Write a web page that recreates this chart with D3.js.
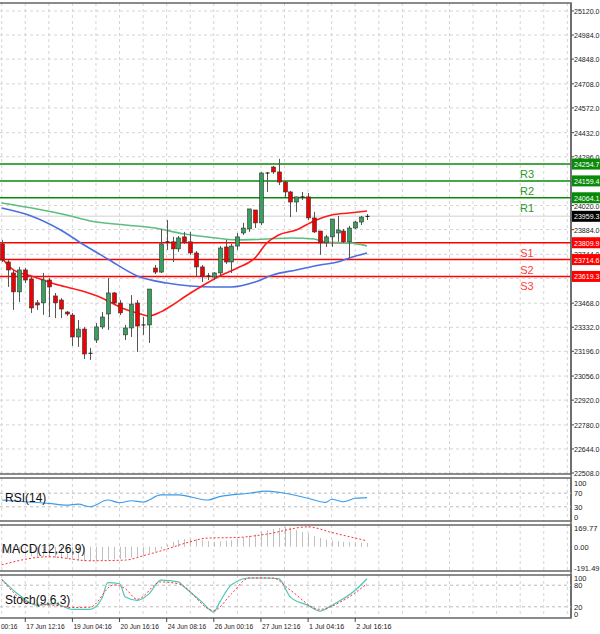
<!DOCTYPE html>
<html>
<head>
<meta charset="utf-8">
<script src="https://cdn.jsdelivr.net/npm/d3@7"></script>
<style>
  body { margin: 0; background: #fff; }
  svg { display: block; font-family: "Liberation Sans", Arial, sans-serif; }
</style>
</head>
<body>
<div id="container"></div>
<script>
// candles: [open, high, low, close]
const candles = [
  [23803, 23826, 23701, 23712], [23701, 23712, 23560, 23656], [23639, 23656, 23430, 23532],
  [23532, 23673, 23475, 23656], [23656, 23667, 23582, 23599], [23605, 23622, 23413, 23441],
  [23470, 23486, 23430, 23458], [23470, 23639, 23402, 23599], [23599, 23610, 23390, 23560],
  [23509, 23526, 23384, 23470], [23486, 23497, 23384, 23435], [23418, 23424, 23396, 23407],
  [23401, 23413, 23226, 23277], [23277, 23373, 23221, 23322], [23322, 23333, 23153, 23181],
  [23181, 23215, 23147, 23185], [23260, 23356, 23243, 23334], [23334, 23418, 23322, 23390],
  [23407, 23610, 23317, 23526], [23526, 23531, 23458, 23469], [23469, 23486, 23401, 23413],
  [23289, 23345, 23260, 23328], [23328, 23514, 23277, 23463], [23469, 23486, 23193, 23339],
  [23345, 23390, 23289, 23339], [23345, 23548, 23243, 23548], [23667, 23684, 23633, 23644],
  [23644, 23888, 23639, 23803], [23815, 23938, 23769, 23815], [23815, 23843, 23701, 23775],
  [23775, 23848, 23758, 23837], [23843, 23871, 23803, 23815], [23815, 23871, 23741, 23752],
  [23752, 23763, 23622, 23673], [23673, 23684, 23588, 23622], [23622, 23639, 23599, 23616],
  [23616, 23644, 23599, 23639], [23639, 23791, 23627, 23780], [23786, 23826, 23690, 23701],
  [23701, 23803, 23639, 23791], [23791, 23865, 23769, 23843], [23865, 23922, 23854, 23893],
  [23888, 24001, 23871, 24001], [23995, 23995, 23893, 23922], [23922, 24210, 23910, 24204],
  [24204, 24210, 24097, 24199], [24238, 24244, 24199, 24210], [24210, 24284, 24136, 24153],
  [24153, 24159, 24069, 24097], [24097, 24102, 23955, 24040], [24040, 24069, 23984, 24069],
  [24069, 24097, 24052, 24069], [24069, 24091, 23938, 23950], [23950, 23984, 23865, 23871],
  [23876, 23876, 23741, 23809], [23809, 23854, 23786, 23843], [23843, 23944, 23786, 23944],
  [23865, 23961, 23815, 23882], [23876, 23888, 23809, 23815], [23815, 23905, 23724, 23893],
  [23893, 23933, 23888, 23927], [23927, 23961, 23910, 23955], [23955, 23972, 23938, 23959]
];

// moving averages: [candle index, value]
const maRed = [[0, 23724], [2, 23656], [5, 23622], [9, 23577], [13, 23543], [17, 23498], [20, 23447],
  [23, 23413], [25, 23396], [27, 23419], [29, 23458], [31, 23503], [34, 23565], [37, 23622],
  [40, 23667], [43, 23724], [45, 23809], [47, 23854], [50, 23882], [53, 23933], [56, 23967],
  [59, 23978], [62, 23989]];
const maBlue = [[0, 24006], [5, 23961], [10, 23882], [14, 23797], [18, 23718], [23, 23622],
  [28, 23582], [32, 23565], [36, 23560], [39, 23560], [43, 23588], [46, 23628], [50, 23656],
  [54, 23684], [57, 23701], [59, 23724], [62, 23752]];
const maGreen = [[0, 24035], [6, 24001], [11, 23967], [15, 23933], [21, 23910], [26, 23893],
  [31, 23859], [35, 23842], [40, 23826], [45, 23831], [49, 23837], [53, 23831], [55, 23814],
  [59, 23809], [62, 23792]];

const pivots = [
  { name: "R3", value: 24254.7 }, { name: "R2", value: 24159.4 }, { name: "R1", value: 24064.1 },
  { name: "S1", value: 23809.9 }, { name: "S2", value: 23714.6 }, { name: "S3", value: 23619.3 }
];
const lastPrice = 23959.3;

const priceTicks = [25120, 24984, 24848, 24708, 24572, 24432, 24296, 24020, 23884, 23744,
  23608, 23468, 23332, 23196, 23056, 22920, 22780, 22644, 22508];

const rsi = [[0, 50], [4, 45], [8, 40], [11, 35], [13, 38], [15, 30], [18, 50], [20, 42], [22, 48],
  [24, 44], [27, 65], [30, 65], [35, 50], [37, 60], [42, 70], [45, 76], [48, 70], [52, 55],
  [55, 43], [56, 52], [58, 45], [60, 55], [62, 57]];

const macdHist = [-60, -62, -65, -68, -72, -85, -90, -92, -95, -100, -105, -110, -115,
  -125, -130, -130, -125, -120, -115, -112, -110, -105, -95, -90, -80, -55, -45, -20,
  20, 45, 60, 70, 72, 68, 60, 50, 45, 50, 55, 60, 70, 85, 100, 110, 140, 150, 160,
  170, 180, 175, 150, 135, 120, 95, 80, 65, 55, 50, 45, 42, 40, 38, 36];
const macdSignal = [[0, -163], [8, -90], [15, -126], [21, -120], [24, -81], [28, -21], [31, 30],
  [35, 79], [40, 84], [45, 115], [52, 180], [56, 129], [62, 54]];

const stochMain = [[0, 96], [3, 52], [6, 24], [9, 29], [12, 13], [15, 13], [17, 43], [18, 87],
  [20, 84], [21, 47], [23, 38], [25, 56], [27, 94], [30, 89], [31, 75], [34, 33], [36, 6],
  [37, 33], [39, 81], [42, 100], [45, 100], [47, 98], [49, 47], [52, 24], [54, 8], [56, 24],
  [60, 66], [62, 98]];
const stochSignal = [[0, 96], [5, 29], [9, 24], [12, 18], [15, 19], [19, 81], [21, 70], [23, 41],
  [27, 89], [30, 84], [36, 10], [39, 56], [42, 100], [46, 100], [49, 66], [54, 13], [58, 38],
  [62, 84]];

const dateTicks = [
  { i: -4, label: "14 Jun 00:16" }, { i: 4, label: "17 Jun 12:16" }, { i: 12, label: "19 Jun 04:16" },
  { i: 20, label: "20 Jun 16:16" }, { i: 28, label: "24 Jun 08:16" }, { i: 36, label: "26 Jun 00:16" },
  { i: 44, label: "27 Jun 12:16" }, { i: 52, label: "1 Jul 04:16" }, { i: 60, label: "2 Jul 16:16" }
];

const width = 600, height = 634, plotRight = 571;

const svg = d3.select("#container").append("svg")
  .attr("width", width).attr("height", height);

const x = d3.scaleLinear().domain([0, 62]).range([1.7, 367]);
const y = d3.scaleLinear().domain([22508, 25120]).range([473, 11]);

const panels = [
  { top: 3, bottom: 474 },
  { top: 478, bottom: 521 },
  { top: 525, bottom: 571 },
  { top: 575, bottom: 618 }
];

svg.append("defs").append("clipPath").attr("id", "plot")
  .append("rect").attr("x", 0).attr("y", 0).attr("width", plotRight).attr("height", height);

const grid = svg.append("g").attr("stroke", "#d4d4d4").attr("stroke-dasharray", "3,3");
const vIdx = d3.range(-4, 100, 4).filter((i) => x(i) > 0 && x(i) < plotRight);
panels.forEach((p) => {
  vIdx.forEach((i) => {
    grid.append("line").attr("x1", x(i)).attr("x2", x(i)).attr("y1", p.top).attr("y2", p.bottom);
  });
});
priceTicks.forEach((t) => {
  grid.append("line").attr("x1", 0).attr("x2", plotRight).attr("y1", y(t)).attr("y2", y(t));
});

panels.forEach((p) => {
  svg.append("rect").attr("x", -1).attr("y", p.top).attr("width", plotRight + 1)
    .attr("height", p.bottom - p.top).attr("fill", "none").attr("stroke", "#666").attr("stroke-width", 1.5);
});

const main = svg.append("g").attr("clip-path", "url(#plot)");

main.append("line").attr("x1", 0).attr("x2", plotRight).attr("y1", y(lastPrice)).attr("y2", y(lastPrice))
  .attr("stroke", "#e0e0e0").attr("stroke-width", 1.5);

pivots.forEach((p) => {
  const col = p.name[0] === "R" ? "#0a8a0a" : "#ff0000";
  main.append("line").attr("x1", 0).attr("x2", plotRight).attr("y1", y(p.value)).attr("y2", y(p.value))
    .attr("stroke", col).attr("stroke-width", 1.5);
  main.append("text").attr("x", 527).attr("y", y(p.value) + 14).attr("text-anchor", "middle")
    .attr("font-size", 11).attr("fill", p.name[0] === "R" ? "#2a9a2a" : "#ff3b3b").text(p.name);
});

const line = d3.line().x((d) => x(d[0])).y((d) => y(d[1])).curve(d3.curveMonotoneX);
[[maGreen, "#5cbf7f"], [maBlue, "#4a6fe0"], [maRed, "#ff1a1a"]].forEach(([data, col]) => {
  main.append("path").attr("d", line(data)).attr("fill", "none").attr("stroke", col).attr("stroke-width", 1.6);
});

const cg = main.append("g");
candles.forEach((c, i) => {
  const [o, h, l, cl] = c;
  const cx = Math.round(x(i)) + 0.5;
  cg.append("line").attr("x1", cx).attr("x2", cx).attr("y1", y(h)).attr("y2", y(l))
    .attr("stroke", "#555").attr("stroke-width", 1);
  const top = y(Math.max(o, cl)), bot = y(Math.min(o, cl));
  if (bot - top < 1.5) {
    cg.append("line").attr("x1", cx - 2).attr("x2", cx + 2).attr("y1", top).attr("y2", top)
      .attr("stroke", "#111");
  } else {
    cg.append("rect").attr("x", cx - 2).attr("y", top).attr("width", 4).attr("height", bot - top)
      .attr("fill", cl >= o ? "#3a9e5e" : "#f00000").attr("stroke", "#333").attr("stroke-width", 0.6);
  }
});

// price axis
const ax = svg.append("g").attr("font-size", 7.5).attr("fill", "#222");
svg.append("line").attr("x1", plotRight).attr("x2", plotRight).attr("y1", 3).attr("y2", 618)
  .attr("stroke", "#666").attr("stroke-width", 1.5);
const axText = (yy, s, fill) => {
  const t = ax.append("text").attr("x", 574).attr("y", yy + 3).text(s);
  if (fill) t.attr("fill", fill);
  if (s.length >= 6) t.attr("textLength", Math.min(s.length * 3.9, 25.5)).attr("lengthAdjust", "spacingAndGlyphs");
  return t;
};
priceTicks.forEach((t) => {
  ax.append("line").attr("x1", plotRight).attr("x2", plotRight + 3).attr("y1", y(t)).attr("y2", y(t)).attr("stroke", "#444");
  axText(y(t), t.toFixed(1));
});
const tag = (v, fill) => {
  ax.append("rect").attr("x", 572).attr("y", y(v) - 5.5).attr("width", 28).attr("height", 11).attr("fill", fill);
  axText(y(v), v.toFixed(1), "#fff");
};
pivots.forEach((p) => tag(p.value, p.name[0] === "R" ? "#0a8a0a" : "#ff0000"));
tag(lastPrice, "#000");

// RSI
const yr = d3.scaleLinear().domain([0, 100]).range([517, 483]);
[70, 30].forEach((v) => svg.append("line").attr("x1", 0).attr("x2", plotRight).attr("y1", yr(v)).attr("y2", yr(v))
  .attr("stroke", "#bbb").attr("stroke-dasharray", "3,3"));
svg.append("path").attr("d", d3.line().x((d) => x(d[0])).y((d) => yr(d[1])).curve(d3.curveMonotoneX)(rsi))
  .attr("fill", "none").attr("stroke", "#3d9be9").attr("stroke-width", 1.1);
[100, 70, 30, 0].forEach((v) => axText(yr(v), String(v)));
svg.append("text").attr("x", 5).attr("y", 502).attr("font-size", 12).attr("fill", "#111").text("RSI(14)");

// MACD
const ym = d3.scaleLinear().domain([-191.49, 169.77]).range([568, 528]);
macdHist.forEach((v, i) => {
  svg.append("line").attr("x1", Math.round(x(i)) + 0.5).attr("x2", Math.round(x(i)) + 0.5)
    .attr("y1", ym(0)).attr("y2", ym(v)).attr("stroke", "#c0c0c0").attr("stroke-width", 1);
});
svg.append("path").attr("d", d3.line().x((d) => x(d[0])).y((d) => ym(d[1])).curve(d3.curveMonotoneX)(macdSignal))
  .attr("fill", "none").attr("stroke", "#ff3030").attr("stroke-width", 1).attr("stroke-dasharray", "2,2");
[169.77, 0, -191.49].forEach((v) => axText(ym(v), v.toFixed(2)));
svg.append("text").attr("x", 2).attr("y", 553).attr("font-size", 12).attr("fill", "#111").text("MACD(12,26,9)");

// Stochastic
const ys = d3.scaleLinear().domain([0, 100]).range([614, 578]);
[80, 20].forEach((v) => svg.append("line").attr("x1", 0).attr("x2", plotRight).attr("y1", ys(v)).attr("y2", ys(v))
  .attr("stroke", "#bbb").attr("stroke-dasharray", "3,3"));
const sl = d3.line().x((d) => x(d[0])).y((d) => ys(d[1])).curve(d3.curveMonotoneX);
svg.append("path").attr("d", sl(stochMain)).attr("fill", "none").attr("stroke", "#4cc8b8").attr("stroke-width", 1.2);
svg.append("path").attr("d", sl(stochSignal)).attr("fill", "none").attr("stroke", "#ff3030")
  .attr("stroke-width", 1).attr("stroke-dasharray", "2,2");
[100, 80, 20, 0].forEach((v) => axText(ys(v), String(v)));
svg.append("text").attr("x", 5).attr("y", 604).attr("font-size", 12).attr("fill", "#111").text("Stoch(9,6,3)");

// date axis
const dg = svg.append("g").attr("font-size", 7.5).attr("fill", "#222");
dateTicks.forEach((d) => {
  const tx = x(d.i);
  dg.append("line").attr("x1", tx).attr("x2", tx).attr("y1", 618).attr("y2", 622).attr("stroke", "#444");
  dg.append("text").attr("x", tx + 1).attr("y", 629).attr("textLength", d.label.length * 3.2)
    .attr("lengthAdjust", "spacingAndGlyphs").text(d.label);
});
</script>
</body>
</html>
